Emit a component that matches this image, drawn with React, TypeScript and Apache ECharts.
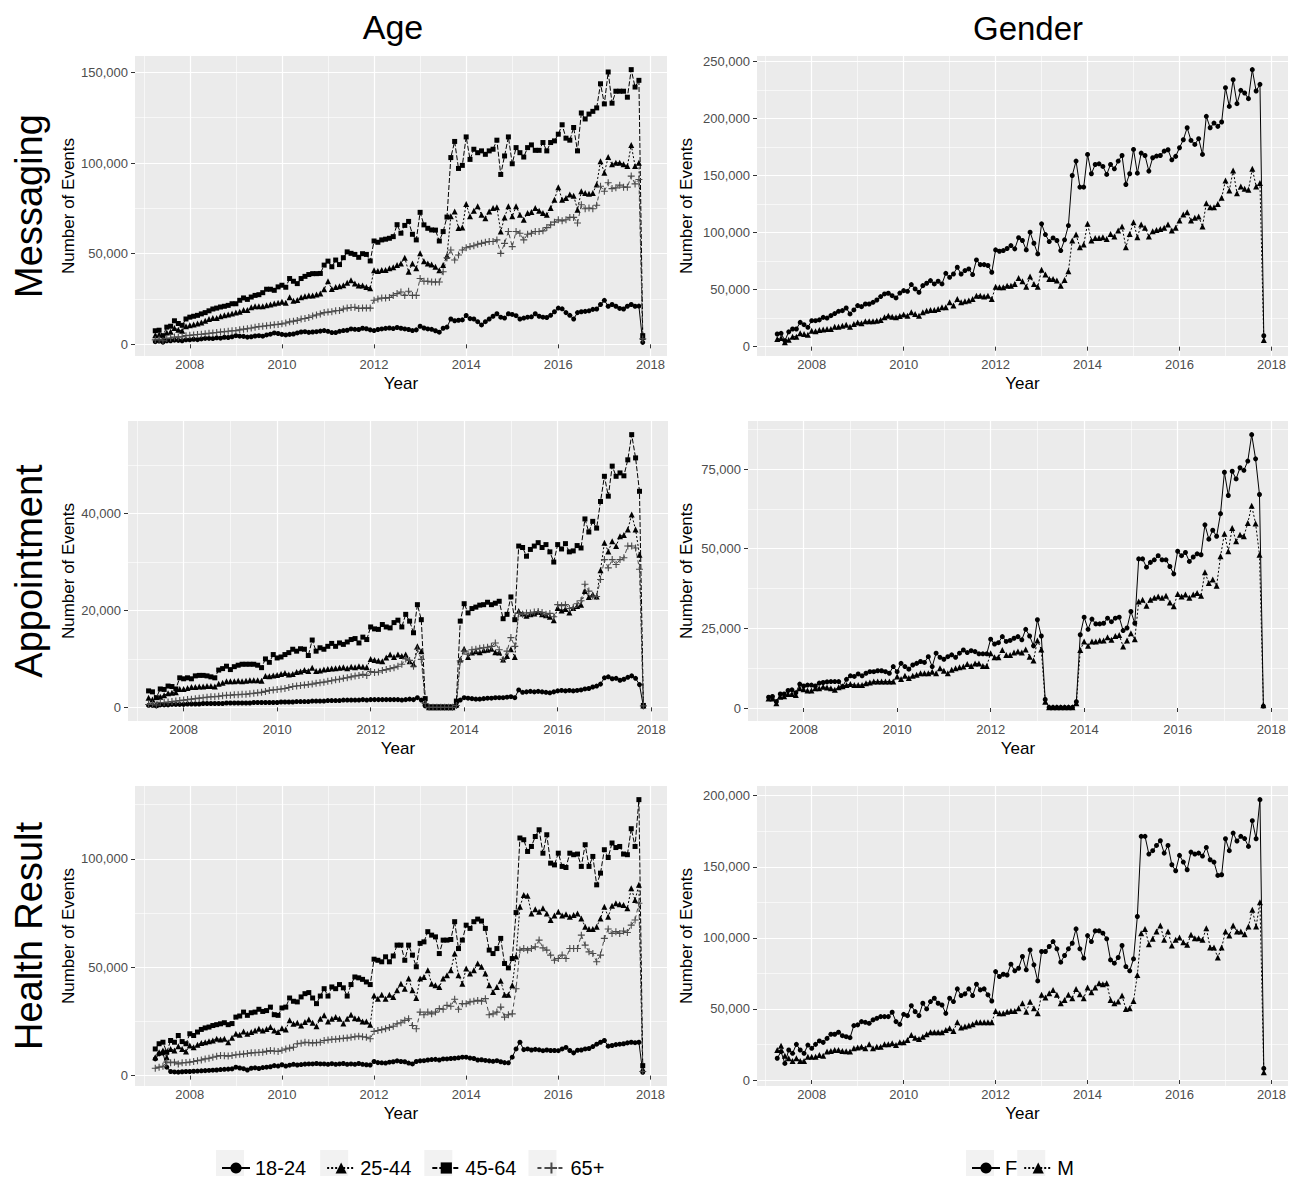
import React, { useEffect, useRef } from "react";
import * as echarts from "echarts";

// Monthly points, April 2007 .. November 2017 (128 months). Values in thousands of events.
const FIRST_YEAR = 2007;
const FIRST_MONTH = 4;
const N_MONTHS = 128;

const AGE_GROUPS = ["18-24", "25-44", "45-64", "65+"];
const GENDERS = ["F", "M"];
const ROW_TITLES = ["Messaging", "Appointment", "Health Result"];
const COL_TITLES = ["Age", "Gender"];
const X_MAJOR = [2008, 2010, 2012, 2014, 2016, 2018];
const X_MINOR = [2007, 2009, 2011, 2013, 2015, 2017];

// ---------- Messaging ----------
const msg1824 = [1.5, 1.8, 1.2, 2, 2, 2.3, 2.2, 2, 2.5,
  2.5, 2.8, 2.6, 3, 3.3, 3.3, 3.2, 3.6, 3.4, 3.9, 3.8, 4.2,
  4.8, 4.5, 4.4, 4, 4.2, 4.6, 4.8, 4.5, 5.2, 5.6, 6.3, 6,
  5.5, 5.2, 5.5, 5.7, 6.3, 6.8, 7, 6.6, 6.8, 7, 7.3, 7.6,
  7.2, 6.5, 6.5, 7.2, 7.6, 7.8, 8.5, 8.3, 8.2, 8.9, 8.6, 8,
  7.6, 8.2, 8.5, 8.8, 9, 8.7, 9.3, 8.9, 8.5, 8.2, 7.6, 8,
  10, 9, 8.5, 8.3, 7.5, 6.7, 8.9, 9.5, 14, 13, 13.3, 13.5,
  15.9, 14.2, 14, 12.5, 10.7, 12.5, 14, 15.5, 16.9, 15, 14.5, 16.9,
  16.5, 15.8, 14, 14.5, 15, 15.2, 16.9, 15.5, 15, 14.8, 16, 18,
  20, 19.6, 17.5, 16, 14, 17.5, 18, 18.2, 18.5, 19.3, 19.5, 22,
  24.3, 21, 22, 21, 19.8, 19.5, 21, 22, 21, 21.1, 1.1];
const msg2544 = [5, 5.5, 3, 6.5, 7, 9, 8, 7.5, 10,
  10.5, 11, 11.5, 12, 13, 14, 14.5, 14.5, 15.5, 16, 16.5, 17,
  17.5, 18, 19, 19, 20.5, 21, 21, 21, 21.5, 22, 22.5, 23,
  23.5, 23, 26, 24, 24.5, 26, 26.5, 27, 27, 27.5, 28, 30.4,
  34.8, 30.5, 31.7, 32, 32.6, 34, 35.4, 33.5, 32.5, 32.5, 31.7, 31,
  40.9, 40.5, 41, 41, 42, 42.5, 43.7, 44.6, 47.8, 40, 44.6, 42,
  50.2, 45.9, 44.6, 44.1, 42.8, 40.9, 43.7, 48.9, 70.6, 73.3, 64.1, 64.4,
  77.4, 70.6, 73.7, 76.1, 71.5, 69.6, 73.3, 75.2, 75.6, 62.2, 70, 76.1,
  70.6, 76.1, 71.5, 68.7, 72.4, 73, 75.2, 73.7, 72.4, 71.5, 75.2, 79.8,
  86.7, 79.8, 80.7, 82.6, 82, 74.3, 84.4, 83.5, 83, 83.5, 88.1, 101,
  94.6, 103.3, 99.3, 100.2, 100.2, 99.3, 98.3, 110, 98.3, 100.2, 4];
const msg4564 = [7.5, 7.8, 4.8, 9.5, 10, 13, 11.5, 10.5, 14,
  15, 15.5, 16, 16.8, 17.5, 18.5, 19.5, 20, 20.6, 21, 21.5, 22.4,
  22.4, 24.3, 25.6, 24.8, 26.1, 27, 27.4, 28.5, 30.4, 30.4, 29.8, 31.7,
  32.6, 31.5, 36.3, 34.8, 33.5, 36.3, 37.5, 38.5, 39, 39, 39.1, 43.7,
  45.9, 42.8, 46.5, 44, 47.8, 51, 50.2, 49.6, 48, 50, 49.6, 46,
  57, 56.3, 57.6, 58, 58.5, 59.4, 66, 61.3, 65.6, 67.8, 60.7, 57.6,
  72.8, 65.9, 64, 63.1, 63, 57, 62.2, 70.2, 103, 111.9, 97, 98.7,
  114.4, 102, 107.6, 105.7, 106.7, 104.8, 106.7, 107.6, 112.6, 93.7, 103.9, 114.4,
  99.6, 108.5, 105.7, 103.3, 108.5, 110, 107, 107, 111.3, 106.7, 111.3, 112.2,
  115.9, 121.1, 113.7, 112.6, 119.6, 106.7, 127.6, 124.3, 127, 128.5, 130.4, 143.7,
  132.6, 150.2, 133, 139.6, 139.6, 139.6, 136.3, 151.5, 141.9, 145.6, 4.8];
const msg65 = [2.5, 2.8, 2, 3.2, 3.5, 4, 4, 4.2, 4.8,
  5, 5.2, 5.4, 5.6, 5.8, 6.1, 6.3, 6.5, 6.8, 7, 7.2, 7.5,
  7.6, 8, 8.4, 8.6, 9, 9.4, 9.8, 10, 10.3, 10.5, 10.8, 11,
  11.3, 11.8, 12.4, 12.8, 13.2, 14, 14.3, 14.8, 15.6, 16.2, 16.8, 17.5,
  17.8, 18, 18.5, 18.7, 19.5, 20, 20.3, 20.5, 19.8, 20, 20, 20,
  24.3, 25, 25.6, 25.5, 25.8, 27, 28, 28.9, 27, 29.3, 27, 27,
  36.3, 34.8, 34.8, 34.4, 34.4, 34.4, 40, 47.8, 52, 46.5, 49.3, 52,
  53.3, 53.9, 54.4, 55.2, 55.7, 56.3, 56.7, 56.7, 57.6, 50.2, 55.7, 62.2,
  53.9, 62.2, 61.3, 57.6, 60.7, 61.3, 62.2, 62.2, 62.6, 64.4, 65.9, 67.4,
  68.7, 68.1, 68.7, 70, 70, 66.9, 77, 74.8, 75.2, 74.8, 76.7, 87.2,
  84.4, 89.1, 85.9, 86.3, 87.8, 86.7, 86.7, 92.8, 88.5, 90.9, 3];
const msgF = [11.1, 11.7, 5.3, 13, 15.5, 15.5, 21.3, 19.3, 17,
  22.8, 22.8, 23.5, 25.7, 25.1, 27.2, 29, 31, 31.6, 33.9, 28.7, 32.2,
  36, 35.1, 37.4, 37.4, 38.9, 40.9, 43.9, 46.2, 46.8, 44.7, 42.7, 47,
  49.1, 48.5, 54.4, 50.6, 47.7, 53.5, 55.6, 57.9, 55, 57.3, 55, 64.3,
  60.8, 63.7, 69.6, 63.7, 66.7, 68.1, 63.2, 76, 71.9, 71.9, 71.1, 65.2,
  84.8, 83.6, 84.2, 86, 88.6, 85.7, 95.5, 93, 84.8, 100.3, 90.6, 81.3,
  107.6, 98.2, 92.1, 95.3, 93, 84.2, 93.6, 106.1, 150, 162.6, 139.8, 139.8,
  168.4, 151.5, 159.6, 160.2, 157.9, 150.9, 159.6, 155.8, 162.6, 167.5, 142.1, 151.5,
  172.8, 152, 169.6, 167.5, 153.8, 165.5, 167, 167.5, 171.3, 172.5, 163.7, 166.7,
  174.3, 181.3, 191.8, 180.7, 177.2, 182.2, 168.4, 201.8, 191.8, 195.9, 193, 196.8,
  226.9, 210.5, 233.9, 212.9, 224.6, 222.2, 217.3, 242.7, 224, 229.8, 9.6];
const msgM = [6.7, 7.6, 3.8, 6, 8.8, 8.8, 11.7, 11.1, 10.5,
  14, 13.5, 14.6, 15, 15.5, 15.5, 17.5, 17.5, 18.4, 19.3, 17.5, 19.9,
  21.3, 20.5, 22.2, 22.2, 22.2, 22.8, 23.4, 25.7, 27.2, 26.3, 25.7, 27,
  28.1, 27.2, 30.1, 28.7, 27.2, 30.1, 31.6, 32.2, 32.2, 33, 34.5, 34.5,
  38.9, 36, 41.8, 38.9, 39.8, 40.4, 41.8, 44.7, 44.7, 43.9, 44.7, 41.8,
  52.6, 52, 52, 53.5, 53.5, 55, 60.2, 57.3, 52.6, 61.4, 55, 52.6,
  67.3, 63.2, 59.4, 59.4, 57.9, 53.5, 58.5, 66.1, 93, 98.2, 87.1, 89.5,
  107.6, 93, 95.3, 95.3, 95.9, 94.4, 98.8, 96.5, 101.8, 105.3, 87.1, 98.8,
  109.1, 95.9, 107, 104.1, 96.5, 101.2, 102.3, 103.2, 104.1, 107, 101.8, 104.1,
  110.5, 115.8, 117.8, 110.5, 112.9, 114, 105.3, 125.7, 122.2, 122.2, 125.1, 130.4,
  145.6, 136.8, 154.4, 134.5, 140.4, 138.3, 137.4, 155.8, 140.4, 143.3, 5.8];

// ---------- Appointment ----------
const apt1824 = [0.4, 0.4, 0.3, 0.5, 0.5, 0.5, 0.6, 0.6, 0.6,
  0.6, 0.7, 0.7, 0.7, 0.7, 0.8, 0.8, 0.8, 0.8, 0.8, 0.8, 0.9,
  0.9, 0.9, 0.9, 0.9, 0.9, 0.9, 1, 1, 1, 1, 1, 1,
  1, 1.1, 1.1, 1.1, 1.1, 1.2, 1.2, 1.2, 1.2, 1.3, 1.3, 1.3,
  1.3, 1.4, 1.4, 1.4, 1.4, 1.5, 1.5, 1.5, 1.5, 1.5, 1.6, 1.5,
  1.6, 1.6, 1.6, 1.6, 1.6, 1.6, 1.6, 1.6, 1.5, 1.6, 1.7, 1.6,
  2, 1.5, 0.3, 0, 0, 0, 0, 0, 0, 0, 0.3, 1.5,
  2, 1.9, 1.8, 1.7, 1.7, 1.8, 1.9, 1.9, 2, 2, 2, 2.1,
  2.2, 2, 3.6, 3.1, 3.2, 3.3, 3.2, 3.3, 3.2, 3.1, 3, 3.2,
  3.4, 3.5, 3.4, 3.5, 3.4, 3.5, 3.6, 3.8, 3.9, 4.2, 4.4, 4.8,
  6.1, 6.3, 5.9, 6, 5.6, 5.8, 6.2, 6.5, 6, 4.7, 0.2];
const apt2544 = [2, 1.6, 0.6, 2.2, 2.5, 2.9, 3, 3.1, 3.8,
  3.8, 4, 4.2, 4.2, 4.3, 4.3, 4.4, 4.4, 4.3, 4.9, 5.1, 5.4,
  5.4, 5.4, 5.5, 5.4, 5.5, 5.6, 5.6, 5.6, 5.5, 6.5, 6.4, 6.6,
  6.7, 6.9, 7.1, 6.8, 6.9, 7.3, 7.4, 7.7, 7.5, 8.2, 7.5, 7.6,
  7.8, 7.9, 8, 8.1, 8.2, 8.3, 8.1, 8.4, 8.3, 8.5, 8.4, 8.3,
  10, 9.8, 9.6, 9.5, 10.3, 10.9, 10.4, 10.9, 10.6, 10.9, 9.5, 8.9,
  12.6, 11.6, 1, 0, 0, 0, 0, 0, 0, 0, 0.6, 9.9,
  12.1, 10.4, 11.3, 11.6, 11.4, 11.8, 11.9, 12.1, 11.4, 11.3, 9.9, 10.6,
  12, 10.4, 19.9, 19.4, 18.9, 19.2, 19.4, 19.7, 19.2, 19, 18.7, 18,
  20.5, 20, 20.3, 19.6, 20.5, 20.9, 21.2, 24, 22.8, 23.3, 22.9, 28.3,
  34, 32.2, 34.3, 33.3, 35.3, 35.6, 36.7, 39.8, 36.7, 31.5, 0.4];
const apt4564 = [3.4, 3.2, 2, 3.8, 3.7, 4.4, 4.3, 3.8, 6.1,
  5.9, 6.1, 5.9, 6.5, 6.6, 6.6, 6.5, 6.3, 6.1, 7.7, 8, 8.5,
  7.8, 8.4, 8.7, 8.9, 8.9, 8.9, 8.9, 8.7, 8.2, 10, 9.3, 10.9,
  10.2, 10.4, 10.9, 11.3, 12, 11.6, 12.1, 12, 10.7, 13.9, 11.6, 12.3,
  12, 12.6, 13.2, 12.6, 13.3, 13, 13.5, 14, 14.2, 13.3, 14.5, 14,
  16.6, 16.2, 16.1, 17.1, 16.6, 16.4, 17.5, 18, 16.6, 19.2, 17.8, 15.4,
  21.2, 18.1, 1.8, 0.1, 0.1, 0.1, 0.1, 0.1, 0.1, 0.1, 1.3, 17.8,
  21.4, 19.5, 20.4, 20.7, 21.1, 21.2, 21.7, 21.2, 21.5, 21.9, 18.3, 19.2,
  22.8, 18.1, 33.3, 33, 31.2, 32.6, 33.3, 34, 33, 33.6, 32.1, 30,
  33.6, 32.7, 33.8, 32.1, 32.3, 33.4, 32.9, 38.9, 36.2, 38.4, 37, 42.5,
  47.7, 43.6, 49.8, 47.7, 48.4, 47.8, 51.1, 56.3, 51.5, 44.6, 0.4];
const apt65 = [0.6, 0.7, 0.5, 1, 1, 1.1, 1.2, 1.3, 1.4,
  1.5, 1.6, 1.7, 1.8, 1.9, 2, 2.1, 2.2, 2.2, 2.3, 2.4, 2.5,
  2.5, 2.6, 2.6, 2.7, 2.7, 2.8, 2.9, 3, 3.1, 3.3, 3.5, 3.6,
  3.7, 3.8, 3.9, 4.1, 4.3, 4.4, 4.5, 4.6, 4.7, 4.8, 5, 5.1,
  5.2, 5.4, 5.5, 5.7, 5.8, 6, 6.1, 6.3, 6.5, 6.6, 6.8, 6.6,
  7.4, 7.2, 7.3, 7.6, 7.8, 8, 8.2, 8.5, 8.9, 10, 9.7, 8.5,
  12, 9.9, 0.8, 0, 0, 0, 0, 0, 0, 0, 0.4, 9.6,
  11.6, 11, 11.9, 12, 12.2, 12.3, 12.4, 12.6, 13.3, 11.9, 9.9, 11.6,
  14.4, 12.6, 19.4, 19.2, 19.5, 19.5, 19.7, 19.8, 19.6, 19.2, 19.4, 18.7,
  21.2, 21, 21.2, 20.4, 20.6, 21.4, 22, 25.4, 24, 23, 22.9, 26.4,
  30.5, 28.8, 30.5, 29.5, 30.5, 30.9, 33.3, 33.3, 32.9, 28.5, 0.3];
const aptF = [3.4, 3.6, 2, 4.4, 4.4, 5.5, 5.7, 4.8, 7.5,
  6.9, 7.2, 7.2, 6.9, 7.8, 8, 8.2, 8.3, 8.3, 8.3, 6.7, 9,
  10.1, 9.9, 10.7, 10.1, 10.9, 11.4, 11.4, 11.7, 11.7, 11.4, 10.9, 13,
  11.4, 14, 13, 12.2, 13.5, 14, 14.6, 14.3, 16.1, 13, 17.2, 15.9,
  15.3, 16.1, 16.7, 15.9, 17.2, 18.2, 17.4, 18, 17.7, 17, 17, 17,
  21.6, 20.1, 20.5, 22.4, 20.9, 21.2, 21.9, 22.4, 21.4, 24.7, 22.6, 19.5,
  27.7, 22.6, 2.7, 0.2, 0.2, 0.2, 0.2, 0.2, 0.2, 0.2, 2, 23,
  28.5, 24.7, 27.9, 26.4, 26.4, 26.6, 28.2, 27.1, 28.2, 28.5, 24.3, 25.1,
  30.3, 26.6, 46.8, 46.8, 44.2, 45.7, 46.5, 47.8, 46.5, 46.5, 44.4, 42.1,
  49.2, 47.8, 48.8, 46, 47.4, 48.4, 48.1, 57.5, 53, 55.8, 53.9, 61,
  74, 66.7, 74.3, 71.9, 75.4, 74.6, 77.5, 85.8, 78.2, 67, 0.6];
const aptM = [3, 3, 1.5, 3.5, 3.7, 4.4, 4.4, 4.1, 6.2,
  5.9, 5.5, 5.5, 6.2, 6.2, 6.7, 6.4, 6.2, 5.7, 6.5, 6.8, 7.2,
  7.5, 7.2, 7.2, 7.2, 7.8, 8, 8.3, 8.3, 8.3, 8.3, 8.3, 8.3,
  9.9, 9.1, 10.1, 9.4, 10.1, 10.4, 10.9, 10.9, 10.9, 11.4, 10.9, 12.5,
  11.7, 10.9, 12, 12.5, 12.8, 13, 13.8, 13.2, 14, 14, 13.2, 13.2,
  17.2, 15.9, 15.9, 18.2, 16.6, 16.6, 17.4, 17.7, 17.4, 18.4, 16.1, 14.9,
  21.2, 18.4, 2, 0.2, 0.2, 0.2, 0.2, 0.2, 0.2, 0.2, 1.5, 18.2,
  20.9, 19.5, 20.9, 20.9, 21.2, 21.2, 22.2, 21.4, 22.6, 22.9, 19.3, 21.2,
  23.5, 21.6, 33.4, 34, 32.1, 34, 34.6, 35, 34.6, 35.2, 33.1, 31.9,
  35.8, 35, 35.6, 34.6, 35.6, 36.1, 35.2, 42.6, 39.2, 40.3, 38.4, 47.6,
  54.7, 49.2, 56.5, 52.3, 54.4, 53.9, 58.1, 63.5, 57.9, 48.1, 0.9];

// ---------- Health Result ----------
const hr1824 = [7.7, 10, 10.4, 3.9, 1.9, 1.7, 1.6, 1.8, 1.9,
  1.9, 2, 2.1, 2.2, 2.3, 2.4, 2.5, 2.6, 2.8, 2.9, 3, 3.1,
  3.9, 3.5, 3.2, 2.6, 3.4, 3.6, 3.3, 3.7, 3.9, 4.1, 4.6, 4.4,
  5, 4.4, 4.8, 5.2, 4.9, 5.1, 5.3, 5.4, 5.4, 5.6, 5.4, 5.4,
  5.2, 5.5, 5.2, 5.4, 5.6, 5.2, 5.4, 5.2, 5.6, 5.2, 5, 4.9,
  6.5, 6, 5.9, 5.8, 6.2, 6.4, 6.8, 6.5, 6.4, 5.8, 5.4, 6.5,
  6.8, 6.9, 7.2, 7.4, 7.5, 7.2, 7.7, 7.7, 7.9, 8, 8.2, 8.5,
  8.5, 8.1, 7.9, 7.2, 7.3, 7, 6.8, 6.6, 6.9, 6.4, 6, 5.9,
  8.5, 12.3, 15.4, 12, 12.3, 11.8, 12.1, 11.9, 11.5, 11.8, 11.6, 11.6,
  11.5, 12.3, 13, 11.6, 10.5, 11.7, 11.8, 12.3, 12.5, 13.4, 14.5, 15.4,
  16.2, 13.6, 13.9, 14.3, 14.5, 14.7, 15.1, 15.4, 15.2, 15.4, 1.5];
const hr2544 = [8.5, 10.8, 11.6, 8.5, 12.3, 11.6, 13.6, 12.3, 11.1,
  13.9, 13.1, 14.2, 15.1, 15.4, 15.8, 16.2, 17, 16.7, 17, 15.4, 17.5,
  19.3, 18.8, 20.4, 19.3, 20.1, 20.8, 21.6, 20.8, 21.5, 22.4, 20.8, 20.1,
  21.9, 21.3, 25.5, 23.9, 24.4, 23.1, 24.7, 25.9, 24.4, 22.8, 26.2, 27.8,
  25, 26.2, 27, 26.2, 24, 26.2, 28.1, 26.5, 26.2, 25, 25, 23.5,
  37, 35.5, 37.3, 35.5, 37.3, 36.3, 39.4, 42.4, 40.1, 44.8, 39.4, 35.8,
  44.8, 45.5, 48.6, 42.4, 41.7, 40.9, 44.8, 46.3, 48.6, 56.3, 46.3, 42.4,
  49.4, 47.1, 48.6, 51.7, 50.2, 47.1, 41.7, 38.6, 40.9, 43.8, 37.3, 37.3,
  41.7, 55, 77.9, 83.3, 83, 74.8, 76.7, 75.6, 77.2, 74.8, 71.8, 73.8,
  75.6, 73.8, 74.4, 73.3, 74.1, 74.8, 72.5, 68.7, 67.6, 67.6, 68.7, 72.5,
  77.9, 73.3, 78.4, 79.5, 79, 78.7, 77.2, 86.4, 81, 88, 3.1];
const hr4564 = [12.3, 14.7, 15.4, 10.8, 16.2, 15.4, 18.5, 15.7, 14.7,
  19.3, 18.5, 20.1, 21.3, 22, 22.4, 23.1, 23.5, 23.9, 24.4, 23.5, 24,
  27, 27.5, 29.3, 27.8, 29, 29.3, 30.6, 29.6, 30, 31.6, 28.1, 27.8,
  31.2, 31.6, 35.8, 34.3, 34, 36.3, 37.8, 38.3, 35.8, 33.2, 36.7, 40.1,
  36.7, 40.9, 40.1, 42, 40.5, 36.7, 42, 45.5, 45.1, 44.4, 43.2, 42,
  53.7, 53.2, 52.5, 54.8, 52.5, 55.2, 60.2, 60.2, 53.2, 60.2, 55.6, 50.2,
  61, 61.7, 66.4, 64.8, 64, 56.3, 62.5, 62.5, 62.8, 71, 58.6, 62.5,
  69.4, 67.9, 71, 72.2, 71.3, 67.9, 57.9, 56.3, 58.6, 63.3, 51.7, 49.7,
  54, 75.2, 109.6, 108.8, 103.4, 105.7, 110.3, 113.4, 102.6, 111.1, 98, 97.2,
  102.6, 96.5, 96, 102.6, 101.9, 102.2, 96.5, 106.5, 96.5, 101.1, 88, 93.4,
  104.2, 100.6, 107.3, 105.2, 105.7, 102.2, 101.9, 113.9, 105.7, 127.3, 4.6];
const hr65 = [3.4, 3.9, 4.3, 6.2, 5.9, 6.2, 5.4, 5.9, 6,
  6.2, 6.5, 6.9, 7.2, 7.7, 8, 8.5, 8.9, 9.3, 9.2, 9, 9.3,
  9.6, 9.8, 10, 10.2, 10.5, 10.6, 10.7, 10.8, 11.2, 11.6, 11.3, 11.1,
  11.7, 12.3, 12.7, 13.1, 14.7, 14.9, 15.4, 15.2, 15.1, 15.2, 15.4, 16.2,
  16.4, 16.7, 16.8, 17, 17.2, 17.3, 17.7, 17.9, 18.2, 17.9, 17.7, 17,
  20.4, 20.8, 21.2, 21.6, 22.2, 22.8, 23.9, 24.4, 25.5, 26.2, 23.1, 21.6,
  29.3, 28.1, 29.3, 28.5, 29.3, 30.9, 30.6, 32.4, 32, 35.2, 30.6, 33.2,
  33.2, 34, 34.3, 34.7, 34.3, 35.5, 28.1, 28.5, 29.3, 31.6, 27, 28.1,
  28.5, 40.1, 57.9, 58.6, 57.9, 58.6, 59.4, 62.5, 58.9, 57.9, 55.6, 53.2,
  54, 55.6, 54, 58.6, 58.6, 58.6, 64.8, 60.2, 57.1, 56.3, 52.5, 55.6,
  63.3, 67.6, 65.6, 66.4, 65.6, 66.7, 66, 69.4, 71.8, 79.5, 1.9];
const hrF = [15.3, 20, 11.7, 21.1, 18.8, 25.1, 21.1, 18.8, 24.6,
  22.3, 25.1, 27.5, 26.5, 29.3, 32.2, 32.2, 33.6, 31.2, 30.5, 29.8, 38.3,
  38.8, 41.1, 40.6, 39.9, 42.3, 43.4, 44.6, 44.6, 44.6, 47.7, 41.1, 39.2,
  46.2, 45.3, 52.3, 48.1, 45.3, 54, 50, 55.2, 57.5, 54, 52.8, 46.9,
  57.5, 55.2, 64.1, 59.4, 60.6, 64.1, 59.4, 67.4, 63.4, 64.1, 59.9, 55.6,
  76.3, 72.8, 74.4, 73.9, 81.5, 76.8, 78.6, 86.9, 77.5, 91.5, 81, 69.7,
  90.4, 90.4, 93.9, 97.4, 92.3, 82.9, 87.6, 92.3, 96.2, 106.3, 92.3, 85.7,
  101.6, 97.4, 104.9, 104.9, 103.3, 99.3, 84.5, 82.2, 86.2, 94.6, 79.8, 76.8,
  85.2, 115, 171.4, 171.4, 158.9, 161.3, 165, 168.3, 159.6, 165, 151.4, 147.2,
  158, 153.3, 147.9, 160.3, 158.9, 159.6, 157.5, 163.6, 154.9, 153.3, 143.9, 144.4,
  169.7, 161.3, 173.7, 168.1, 171.4, 169.8, 164.3, 182.4, 169.7, 197.2, 8.2];
const hrM = [21.1, 24.2, 17.1, 15.3, 13.4, 15.3, 13.4, 13.4, 16.4,
  16.4, 16.4, 17.6, 17.1, 20, 20.4, 21.1, 21.1, 20.4, 20.2, 20, 22.3,
  22.8, 23.5, 22.3, 25.1, 22.3, 23.5, 23.5, 25.1, 25.1, 25.8, 24.6, 26.5,
  26.5, 28.2, 31.7, 29.8, 28.9, 30.5, 32.2, 33.6, 33.6, 33.6, 33.6, 35.2,
  36.4, 34.5, 40.6, 36.9, 37.6, 38.3, 39.2, 40.6, 40.6, 40.6, 40.6, 40.6,
  48.6, 46.9, 46.9, 48.1, 48.6, 48.6, 50.5, 54, 48.1, 55, 50.5, 46.9,
  59.9, 58, 61, 63.4, 59.9, 54, 56.3, 59.9, 57.5, 64.1, 60.3, 57.5,
  65, 61.7, 65, 68.1, 67.4, 68.1, 56.3, 54, 55.2, 59.4, 50, 50.5,
  55.6, 73.9, 103.3, 106.3, 95.5, 99.3, 104.5, 108.7, 98.6, 104.5, 94.6, 98.6,
  100.2, 96.9, 95.1, 102.1, 99.8, 99.8, 98.6, 106.8, 93.2, 93.2, 86.2, 93.2,
  104.5, 101.6, 108.7, 104.5, 104.5, 102.6, 108, 119.7, 108, 125.1, 5.4];

// ---------- styling ----------
const FONT = '"Liberation Sans", Arial, Helvetica, sans-serif';
const PLUS = "path://M0,5L10,5M5,0L5,10";
const X_MIN = 2006.81;
const X_MAX = 2018.36;

const AGE_STYLE = [
  { symbol: "circle", size: 5, dash: "solid", color: "#000", bw: 0 },
  { symbol: "triangle", size: 6, dash: [2, 2], color: "#000", bw: 0 },
  { symbol: "rect", size: 5, dash: [5, 2], color: "#000", bw: 0 },
  { symbol: PLUS, size: 7, dash: [4, 3], color: "#4a4a4a", bw: 1.1 },
];
const GENDER_STYLE = [
  { symbol: "circle", size: 5, dash: "solid", color: "#000", bw: 0 },
  { symbol: "triangle", size: 6, dash: [2, 2], color: "#000", bw: 0 },
];

const PANELS = [
  { names: AGE_GROUPS, styles: AGE_STYLE, values: [msg1824, msg2544, msg4564, msg65],
    grid: { left: 135, top: 56, width: 532, height: 300 },
    yMajor: [0, 50000, 100000, 150000], yMinor: [25000, 75000, 125000], yGap: 58 },
  { names: GENDERS, styles: GENDER_STYLE, values: [msgF, msgM],
    grid: { left: 757, top: 56, width: 531, height: 300 },
    yMajor: [0, 50000, 100000, 150000, 200000, 250000], yMinor: [25000, 75000, 125000, 175000, 225000], yGap: 62 },
  { names: AGE_GROUPS, styles: AGE_STYLE, values: [apt1824, apt2544, apt4564, apt65],
    grid: { left: 128, top: 421, width: 540, height: 300 },
    yMajor: [0, 20000, 40000], yMinor: [10000, 30000, 50000], yGap: 51 },
  { names: GENDERS, styles: GENDER_STYLE, values: [aptF, aptM],
    grid: { left: 748, top: 421, width: 540, height: 300 },
    yMajor: [0, 25000, 50000, 75000], yMinor: [12500, 37500, 62500, 87500], yGap: 53 },
  { names: AGE_GROUPS, styles: AGE_STYLE, values: [hr1824, hr2544, hr4564, hr65],
    grid: { left: 135, top: 786, width: 532, height: 300 },
    yMajor: [0, 50000, 100000], yMinor: [25000, 75000, 125000], yGap: 58 },
  { names: GENDERS, styles: GENDER_STYLE, values: [hrF, hrM],
    grid: { left: 757, top: 786, width: 531, height: 300 },
    yMajor: [0, 50000, 100000, 150000, 200000], yMinor: [25000, 75000, 125000, 175000], yGap: 62 },
];

// legend layout (px)
const LEGEND_TOP = 1153;
const LEGEND_ITEM_W = 28;
const LEGEND_ITEM_H = 14;
const AGE_LEGEND_LEFT = 216;
const AGE_LEGEND_GAP = 20;
const GENDER_LEGEND_LEFT = 966;
const GENDER_LEGEND_GAP = 6;
const LEGEND_FONT = 20;

function monthPositions(n: number): number[] {
  const out: number[] = [];
  for (let i = 0; i < n; i++) out.push(FIRST_YEAR + (FIRST_MONTH - 1 + i) / 12);
  return out;
}

function withCommas(v: number): string {
  return String(Math.round(v)).replace(/\B(?=(\d{3})+(?!\d))/g, ",");
}

function buildOption() {
  const xs = monthPositions(N_MONTHS);
  const grid: any[] = [];
  const xAxis: any[] = [];
  const yAxis: any[] = [];
  const series: any[] = [];

  PANELS.forEach((p, gi) => {
    grid.push({ ...p.grid, show: true, backgroundColor: "#EBEBEB", borderWidth: 0, containLabel: false, outerBoundsMode: "none" });
    let lo = Infinity, hi = -Infinity;
    p.values.forEach((arr) => arr.forEach((v) => { lo = Math.min(lo, v); hi = Math.max(hi, v); }));
    const pad = (hi - lo) * 0.05;
    const yMin = (lo - pad) * 1000;
    const yMax = (hi + pad) * 1000;

    xAxis.push({
      type: "value", gridIndex: gi, min: X_MIN, max: X_MAX, position: "bottom",
      axisLine: { show: false },
      axisTick: { show: true, length: 4, customValues: X_MAJOR, lineStyle: { color: "#333", width: 1 } },
      axisLabel: { show: true, customValues: X_MAJOR, formatter: (v: number) => String(Math.round(v)), color: "#4D4D4D", fontSize: 13, fontFamily: FONT, margin: 2 },
      splitLine: { show: true, lineStyle: { color: "#FFFFFF", width: 1.2 } },
      name: "Year", nameLocation: "middle", nameGap: 19,
      nameTextStyle: { fontSize: 17, color: "#000", fontFamily: FONT },
    });
    xAxis.push({
      type: "value", gridIndex: gi, min: X_MIN, max: X_MAX,
      axisLine: { show: false }, axisTick: { show: false, customValues: X_MINOR }, axisLabel: { show: false },
      splitLine: { show: true, lineStyle: { color: "#FFFFFF", width: 0.6 } },
    });
    yAxis.push({
      type: "value", gridIndex: gi, min: yMin, max: yMax, position: "left",
      axisLine: { show: false },
      axisTick: { show: true, length: 4, customValues: p.yMajor, lineStyle: { color: "#333", width: 1 } },
      axisLabel: { show: true, customValues: p.yMajor, formatter: (v: number) => withCommas(v), color: "#4D4D4D", fontSize: 13, fontFamily: FONT, margin: 7 },
      splitLine: { show: true, lineStyle: { color: "#FFFFFF", width: 1.2 } },
      name: "Number of Events", nameLocation: "middle", nameGap: p.yGap,
      nameTextStyle: { fontSize: 17, color: "#000", fontFamily: FONT },
    });
    yAxis.push({
      type: "value", gridIndex: gi, min: yMin, max: yMax,
      axisLine: { show: false }, axisTick: { show: false, customValues: p.yMinor }, axisLabel: { show: false },
      splitLine: { show: true, lineStyle: { color: "#FFFFFF", width: 0.6 } },
    });

    p.values.forEach((arr, si) => {
      const st = p.styles[si];
      series.push({
        type: "line", name: p.names[si],
        xAxisIndex: gi * 2, yAxisIndex: gi * 2,
        data: arr.map((v, i) => [xs[i], v * 1000]),
        symbol: st.symbol, symbolSize: st.size, showSymbol: true,
        lineStyle: { color: st.color, width: 1, type: st.dash },
        itemStyle: { color: st.color, borderColor: st.color, borderWidth: st.bw },
        emphasis: { disabled: true }, silent: true, animation: false,
      });
    });
  });

  const legendCommon = {
    orient: "horizontal", top: LEGEND_TOP, itemWidth: LEGEND_ITEM_W, itemHeight: LEGEND_ITEM_H,
    selectedMode: false,
    textStyle: { fontSize: LEGEND_FONT, color: "#000", fontFamily: FONT },
  };

  // light grey key backgrounds behind the legend symbols (ggplot legend keys)
  const keyBoxes: any[] = [];
  const measure = (t: string) => echarts.format.getTextRect
    ? (echarts as any).format.getTextRect(t, `${LEGEND_FONT}px ${FONT}`).width
    : t.length * 11;
  const addKeys = (names: string[], left: number, gap: number) => {
    let x = left;
    names.forEach((n) => {
      keyBoxes.push({
        type: "rect", silent: true, z: -1,
        shape: { x: x, y: LEGEND_TOP - 3, width: LEGEND_ITEM_W, height: 26 },
        style: { fill: "#F2F2F2" },
      });
      let w = 0;
      try { w = measure(n); } catch (e) { w = n.length * 11; }
      x += LEGEND_ITEM_W + 5 + w + gap;
    });
  };
  addKeys(AGE_GROUPS, AGE_LEGEND_LEFT, AGE_LEGEND_GAP);
  addKeys(GENDERS, GENDER_LEGEND_LEFT, GENDER_LEGEND_GAP);

  const titleText = (text: string, x: number, y: number, size: number, rotation = 0) => ({
    type: "text", x, y, rotation, silent: true,
    style: { text, font: `${size}px ${FONT}`, fill: "#000", align: "center", verticalAlign: "middle", textAlign: "center", textVerticalAlign: "middle" },
  });

  return {
    animation: false,
    backgroundColor: "#FFFFFF",
    grid, xAxis, yAxis, series,
    legend: [
      { ...legendCommon, data: AGE_GROUPS, left: AGE_LEGEND_LEFT, itemGap: AGE_LEGEND_GAP },
      { ...legendCommon, data: GENDERS, left: GENDER_LEGEND_LEFT, itemGap: GENDER_LEGEND_GAP },
    ],
    graphic: [
      ...keyBoxes,
      titleText(COL_TITLES[0], 393, 27, 34),
      titleText(COL_TITLES[1], 1028, 28, 33),
      titleText(ROW_TITLES[0], 29, 206, 38, Math.PI / 2),
      titleText(ROW_TITLES[1], 29, 571, 38, Math.PI / 2),
      titleText(ROW_TITLES[2], 29, 936, 38, Math.PI / 2),
    ],
  };
}

export default function App() {
  const ref = useRef<HTMLDivElement>(null);
  useEffect(() => {
    if (!ref.current) return;
    const chart = echarts.init(ref.current, null, { renderer: "svg" });
    chart.setOption(buildOption() as any);
    return () => chart.dispose();
  }, []);
  return (
    <div
      ref={ref}
      style={{ position: "absolute", left: 0, top: 0, width: 1296, height: 1184, background: "#fff" }}
    />
  );
}
